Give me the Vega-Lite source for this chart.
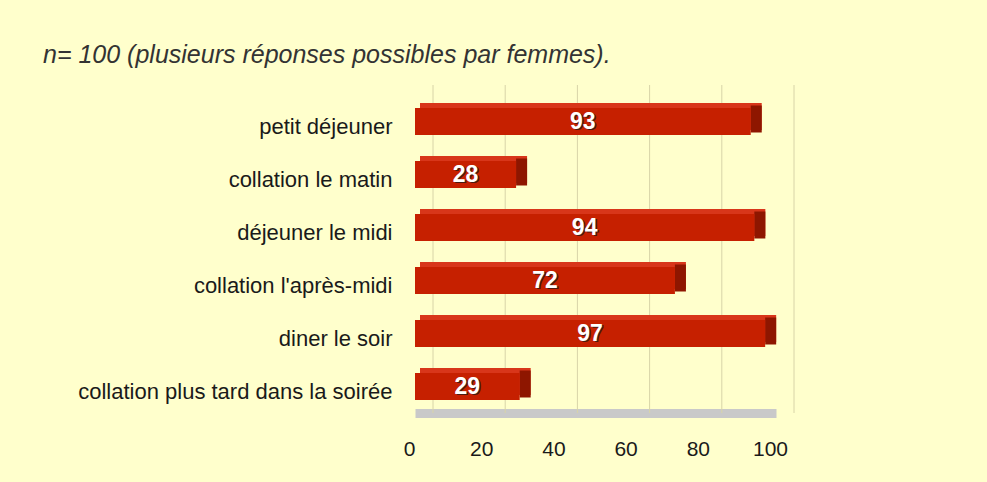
{
  "$schema": "https://vega.github.io/schema/vega-lite/v6.json",
  "width": 361,
  "height": 318,
  "autosize": {"type": "none"},
  "padding": {"left": 415, "top": 95, "right": 211, "bottom": 69},
  "background": "#FFFFCC",
  "title": {
    "text": "n= 100  (plusieurs réponses possibles par femmes).",
    "anchor": "start",
    "frame": "group",
    "dx": -372,
    "dy": 31,
    "offset": 28,
    "baseline": "alphabetic",
    "font": "Liberation Sans",
    "fontStyle": "italic",
    "fontWeight": "normal",
    "fontSize": 25,
    "color": "#333333"
  },
  "config": {"view": {"stroke": null}, "font": "Liberation Sans"},
  "datasets": {
    "meals": [
      {"meal": "petit déjeuner", "value": 93},
      {"meal": "collation le matin", "value": 28},
      {"meal": "déjeuner le midi", "value": 94},
      {"meal": "collation l'après-midi", "value": 72},
      {"meal": "diner le soir", "value": 97},
      {"meal": "collation plus tard dans la soirée", "value": 29}
    ],
    "grid": [{"tick": 0}, {"tick": 20}, {"tick": 40}, {"tick": 60}, {"tick": 80}, {"tick": 100}]
  },
  "resolve": {"scale": {"x": "independent"}},
  "layer": [
    {
      "data": {"name": "grid"},
      "mark": {"type": "rule", "color": "#d8d4a8", "strokeWidth": 1, "xOffset": 18, "yOffset": -10, "y2Offset": -6},
      "encoding": {
        "x": {"field": "tick", "type": "quantitative", "scale": {"domain": [0, 100]}, "axis": null}
      }
    },
    {
      "data": {"name": "meals"},
      "mark": {"type": "bar", "color": "#D8361A", "height": 27, "xOffset": 11, "x2Offset": 5, "yOffset": -5, "y2Offset": -5},
      "encoding": {
        "x": {"field": "value", "type": "quantitative", "scale": {"domain": [0, 100]}, "axis": null},
        "x2": {"datum": 0},
        "y": {"field": "meal", "type": "nominal", "sort": null, "scale": {"paddingInner": 0, "paddingOuter": 0}}
      }
    },
    {
      "data": {"name": "meals"},
      "mark": {"type": "bar", "color": "#8E1600", "height": 27, "x2Offset": 11, "yOffset": -2.5, "y2Offset": -2.5},
      "encoding": {
        "x": {"field": "value", "type": "quantitative", "scale": {"domain": [0, 100]}, "axis": null},
        "x2": {"field": "value"},
        "y": {"field": "meal", "type": "nominal", "sort": null}
      }
    },
    {
      "data": {"name": "meals"},
      "mark": {"type": "bar", "color": "#C62000", "height": 27},
      "encoding": {
        "x": {
          "field": "value",
          "type": "quantitative",
          "scale": {"domain": [0, 100]},
          "axis": {
            "values": [0, 20, 40, 60, 80, 100],
            "title": null,
            "grid": false,
            "ticks": false,
            "tickSize": 0,
            "domain": true,
            "domainColor": "#c9c9c9",
            "domainWidth": 9,
            "labelFontSize": 21,
            "labelColor": "#1a1a1a",
            "labelPadding": 25,
            "labelOffset": -6,
            "labelFlush": false
          }
        },
        "y": {
          "field": "meal",
          "type": "nominal",
          "sort": null,
          "axis": {
            "title": null,
            "domain": false,
            "ticks": false,
            "tickSize": 0,
            "grid": false,
            "labelPadding": 23,
            "labelFontSize": 22,
            "labelColor": "#1a1a1a",
            "labelOffset": 5,
            "labelLimit": 500
          }
        }
      }
    },
    {
      "data": {"name": "meals"},
      "mark": {"type": "text", "color": "#4a1a10", "fontSize": 23, "fontWeight": "bold", "baseline": "middle", "align": "center", "dx": 1.5, "dy": 1.5},
      "encoding": {
        "x": {"field": "value", "type": "quantitative", "scale": {"domain": [0, 200]}, "axis": null},
        "y": {"field": "meal", "type": "nominal", "sort": null},
        "text": {"field": "value", "type": "quantitative"}
      }
    },
    {
      "data": {"name": "meals"},
      "mark": {"type": "text", "color": "#ffffff", "fontSize": 23, "fontWeight": "bold", "baseline": "middle", "align": "center"},
      "encoding": {
        "x": {"field": "value", "type": "quantitative", "scale": {"domain": [0, 200]}, "axis": null},
        "y": {"field": "meal", "type": "nominal", "sort": null},
        "text": {"field": "value", "type": "quantitative"}
      }
    }
  ]
}
